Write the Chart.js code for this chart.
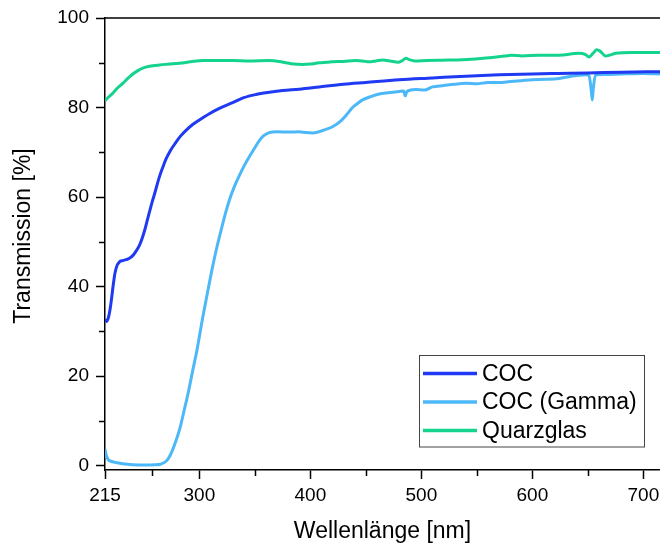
<!DOCTYPE html>
<html><head><meta charset="utf-8">
<script src="https://cdn.jsdelivr.net/npm/chart.js@4"></script>
<style>html,body{margin:0;padding:0;background:#fff}</style>
</head><body>
<canvas id="c" width="660" height="543" style="width:660px;height:543px;display:block"></canvas>
<script>
// ---- data ----
const cocWl = [215,216.5,218,219.5,221,222.5,224,226,228,231,234,237,240,243,246,248.5,251,253,255,257.5,260,262,264,267,270,274,278,283,288,294,300,309,318,330,340,351,363,375,390,408,430,450,480,510,540,570,600,624,650,680,715];
const cocT  = [32.6,32.2,33.0,34.8,37.5,40.5,43.0,44.8,45.5,45.8,46.0,46.3,46.9,47.9,49.2,50.8,52.8,54.7,56.6,58.9,61.0,62.8,64.5,66.6,68.5,70.4,71.9,73.6,74.9,76.2,77.2,78.6,79.8,81.1,82.2,82.9,83.4,83.8,84.1,84.6,85.2,85.6,86.2,86.6,87.0,87.3,87.5,87.6,87.7,87.9,88.0];

const gammaWl = [215,216.5,218,221,226,231,240,250,260,265,268,271,274,277,280,283,286,290,294,298,303,308,312,316,320,324,328,332,336,340,345,350,354,358,363,370,381,390,396,402,408,414,420,427,433,438,443,447,455,462,470,480,484,485.5,487,495,503,510,520,530,540,550,560,570,580,590,600,612,624,635,642,648,651,653,654,655,657,665,680,700,715];
const gammaT  = [3.6,2.0,1.3,0.9,0.6,0.4,0.2,0.1,0.15,0.3,0.6,1.2,2.4,4.2,6.3,8.8,12.0,16.3,21.2,26.0,33.0,39.5,44.5,49.0,53.0,56.8,60.0,62.6,64.8,66.8,69.0,71.0,72.6,73.7,74.4,74.6,74.5,74.6,74.4,74.3,74.6,75.1,75.7,76.9,78.5,80.0,81.0,81.7,82.5,83.0,83.3,83.6,83.7,82.6,83.6,84.0,83.9,84.6,84.9,85.2,85.4,85.3,85.6,85.6,85.8,86.0,86.2,86.3,86.5,87.0,87.2,87.3,87.2,84.0,81.7,84.5,87.3,87.4,87.5,87.6,87.5];

const quartzWl = [215,218,222,226,231,236,240,245,249,255,264,273,282,292,303,315,330,345,363,372,378,385,393,400,408,415,420,430,441,447,453,459,465,472,479,483,486,489,494,505,525,545,564,575,581,591,606,624,642,648,651,655,658,661,666,675,690,715];
const quartzT  = [81.5,82.3,83.2,84.3,85.4,86.6,87.5,88.3,88.8,89.2,89.5,89.7,89.9,90.2,90.5,90.5,90.5,90.4,90.5,90.3,90.0,89.7,89.6,89.7,90.0,90.1,90.2,90.3,90.5,90.4,90.2,90.4,90.6,90.4,90.1,90.5,91.0,90.7,90.4,90.5,90.6,90.8,91.2,91.5,91.7,91.5,91.7,91.7,92.1,91.8,91.3,92.2,92.9,92.6,91.5,92.1,92.3,92.3];

const seriesLabels = ['COC', 'COC (Gamma)', 'Quarzglas'];
const xMajorTicks = [215, 300, 400, 500, 600, 700];
const xMinorTicks = [257.5, 350, 450, 550, 650];
const yMajorTicks = [0, 20, 40, 60, 80, 100];
const yMinorTicks = [10, 30, 50, 70, 90];
const yTitle = 'Transmission [%]';

// ---- styling ----
const colors = ['#1f3af2', '#4db8f8', '#14d38d'];
const FONT = "'Liberation Sans', Arial, sans-serif";

const toPts = (xs, ys) => xs.map((v, i) => ({x: v, y: ys[i]}));

const extras = {
  id: 'extras',
  afterDraw(chart) {
    const {ctx, chartArea: a, scales: {x, y}} = chart;
    ctx.save();
    ctx.strokeStyle = '#000';
    ctx.lineWidth = 1.5;
    ctx.beginPath();
    ctx.moveTo(a.left, a.top); ctx.lineTo(a.right, a.top);
    xMinorTicks.forEach(v => { const px = Math.round(x.getPixelForValue(v)) + 0.5; ctx.moveTo(px, a.bottom); ctx.lineTo(px, a.bottom + 6); });
    yMinorTicks.forEach(v => { const py = Math.round(y.getPixelForValue(v)) + 0.5; ctx.moveTo(a.left, py); ctx.lineTo(a.left - 6, py); });
    ctx.stroke();

    // y axis title
    ctx.save();
    ctx.translate(24, 236);
    ctx.rotate(-Math.PI / 2);
    ctx.font = "23px " + FONT;
    ctx.fillStyle = '#000';
    ctx.textAlign = 'center';
    ctx.textBaseline = 'middle';
    ctx.fillText(yTitle, 0, 0);
    ctx.restore();

    // legend box
    const bx = 419.5, by = 355.5, bw = 225, bh = 91.5;
    ctx.fillStyle = '#fff';
    ctx.fillRect(bx, by, bw, bh);
    ctx.strokeStyle = '#444';
    ctx.lineWidth = 1;
    ctx.strokeRect(bx, by, bw, bh);
    const rows = [373.5, 402, 430.5];
    ctx.font = "23px " + FONT;
    ctx.textBaseline = 'middle';
    ctx.textAlign = 'left';
    chart.data.datasets.forEach((ds, i) => {
      ctx.strokeStyle = ds.borderColor;
      ctx.lineWidth = 3.5;
      ctx.beginPath();
      ctx.moveTo(423, rows[i]); ctx.lineTo(477, rows[i]);
      ctx.stroke();
      ctx.fillStyle = '#000';
      ctx.fillText(ds.label, 482, rows[i] + 1);
    });
    ctx.restore();
  }
};

new Chart(document.getElementById('c'), {
  type: 'line',
  data: {
    datasets: [
      {label: seriesLabels[0], data: toPts(cocWl, cocT), borderColor: colors[0]},
      {label: seriesLabels[1], data: toPts(gammaWl, gammaT), borderColor: colors[1]},
      {label: seriesLabels[2], data: toPts(quartzWl, quartzT), borderColor: colors[2]}
    ]
  },
  options: {
    responsive: false,
    animation: false,
    devicePixelRatio: 1,
    layout: {padding: {top: 18, right: 0, left: 0, bottom: 0}},
    elements: {
      line: {borderWidth: 3, cubicInterpolationMode: 'monotone', fill: false},
      point: {radius: 0, hoverRadius: 0}
    },
    plugins: {legend: {display: false}, tooltip: {enabled: false}},
    scales: {
      x: {
        type: 'linear', min: 215, max: 715,
        afterBuildTicks: s => { s.ticks = xMajorTicks.map(v => ({value: v})); },
        afterFit: s => { s.height = 73; s.paddingRight = 0; s.paddingLeft = 0; },
        grid: {drawOnChartArea: false, tickLength: 9, tickWidth: 1.5, tickColor: '#000'},
        border: {color: '#000', width: 1.5},
        ticks: {color: '#000', font: {family: FONT, size: 19}, padding: 5, maxRotation: 0, autoSkip: false, callback: v => String(v)},
        title: {display: true, text: 'Wellenlänge [nm]', color: '#000', font: {family: FONT, size: 23, lineHeight: 1}, padding: {top: 0, bottom: 0}}
      },
      y: {
        type: 'linear', min: -1, max: 100,
        afterBuildTicks: s => { s.ticks = yMajorTicks.map(v => ({value: v})); },
        afterFit: s => { s.width = 105; s.paddingTop = 0; s.paddingBottom = 0; },
        grid: {drawOnChartArea: false, tickLength: 9, tickWidth: 1.5, tickColor: '#000'},
        border: {color: '#000', width: 1.5},
        ticks: {color: '#000', font: {family: FONT, size: 19}, padding: 7, autoSkip: false, callback: v => String(v)},
        title: {display: false}
      }
    }
  },
  plugins: [extras]
});
</script>
</body></html>
